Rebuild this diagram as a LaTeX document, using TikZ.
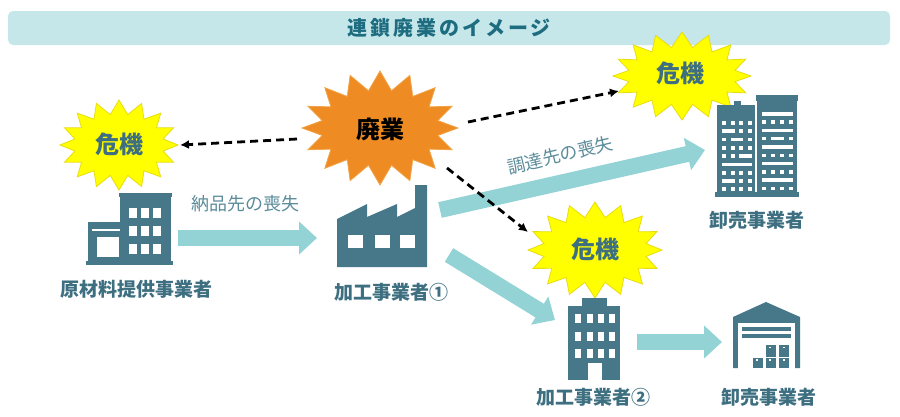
\documentclass[tikz,border=0pt]{standalone}
\usepackage{fontspec}
\setmainfont{Noto Sans CJK JP}
\usetikzlibrary{arrows.meta}
\definecolor{titlebg}{HTML}{C5E7EA}
\definecolor{titletxt}{HTML}{1E6C80}
\definecolor{iconc}{HTML}{47788A}
\definecolor{labelc}{HTML}{3D6F80}
\definecolor{lossc}{HTML}{5B8C9A}
\definecolor{fatc}{HTML}{93D3D6}
\definecolor{kikiyellow}{HTML}{FFFF00}
\definecolor{kikiline}{HTML}{E8DC10}
\definecolor{haiorange}{HTML}{EE8B22}
\definecolor{hailine}{HTML}{F2A448}
\newcommand{\kikiburst}[6]{%
	\filldraw[#6] plot[samples=33, domain=0:32, variable=\t]
		({#1+(#3-#5*mod(\t,2))*cos(11.25*\t)}, {#2+(#4-#5*mod(\t,2))*sin(11.25*\t)}) -- cycle;}

\begin{document}
\begin{tikzpicture}[x=1pt, y=-1pt,
	icon/.style={fill=iconc},
	hole/.style={fill=white},
	firm/.style={font=\bfseries\fontsize{19}{19}\selectfont, text=labelc, inner sep=0pt},
	loss/.style={font=\fontsize{18}{18}\selectfont, text=lossc, inner sep=0pt},
	burstword/.style={font=\bfseries\fontsize{24}{24}\selectfont, inner sep=0pt},
	spot/.style={inner sep=0pt, minimum size=2pt},
	fatarrow/.style={draw=fatc, line width=16pt, -{Triangle[length=18pt, width=32pt]}},
	dasharrow/.style={line width=2.8pt, dash pattern=on 8pt off 5pt, -{Latex[length=9pt, width=9pt]}}]
\useasboundingbox (0,0) rectangle (900,416);

\node (title) [fill=titlebg, rounded corners=5pt, minimum width=882pt, minimum height=34pt,
	font=\bfseries\fontsize{20}{20}\selectfont\addfontfeature{LetterSpace=15}, text=titletxt] at (449,28) {連鎖廃業のイメージ};

\kikiburst{119}{145}{59}{45}{14}{fill=kikiyellow, draw=kikiline, line width=0.8pt}
\kikiburst{380}{128}{78}{57}{19}{fill=haiorange, draw=hailine, line width=0.8pt}
\kikiburst{682}{76}{69}{44}{15}{fill=kikiyellow, draw=kikiline, line width=0.8pt}
\kikiburst{595}{250}{67}{48}{15}{fill=kikiyellow, draw=kikiline, line width=0.8pt}
\node (kk1) [burstword, text=labelc] at (119,144) {危機};
\node (hg)  [burstword] at (380,129) {廃業};
\node (kk2) [burstword, text=labelc] at (680,73) {危機};
\node (kk3) [burstword, text=labelc] at (595,249) {危機};

\node (tk)  [spot] at (130,229) {};
\node (k1)  [spot] at (382,226) {};
\node (ws1) [spot] at (757,146) {};
\node (k2)  [spot] at (594,339) {};
\node (ws2) [spot] at (766,335) {};

\fill[icon] (119,193) rectangle (172,197);
\fill[icon] (120,196) rectangle (171,262);
\fill[icon] (88,222) rectangle (121,262);
\fill[icon] (86,261) rectangle (173,265);
\fill[hole] (92,229) rectangle (120,231);
\fill[hole] (97,237) rectangle (119,257);
\foreach \x in {129,141,153}
	\foreach \y in {208,226,244}
		\fill[hole] (\x,\y) rectangle ++(8,10);

\fill[icon] (337,219) -- (367,204) -- (367,217) -- (397,204) -- (397,217) -- (415,208)
	-- (415,185) -- (427,185) -- (427,267) -- (337,267) -- cycle;
\foreach \x in {348,375,400}
	\fill[hole] (\x,235) rectangle ++(15,13);

\fill[icon] (717,105) rectangle (755,195);
\fill[icon] (734,101) rectangle (741,106);
\fill[icon] (755.5,95) rectangle (798,101);
\fill[icon] (757,100) rectangle (797,195);
\fill[icon] (715,192) rectangle (799,197);
\fill[hole] (755,102) rectangle (756.6,192);
\foreach \y in {121,146,171,187}
	\foreach \x in {722,730.5,739,747.5}
		\fill[hole] (\x,\y) rectangle ++(4,3.5);
\fill[hole] (722,129.3) rectangle ++(12.5,3.5);
\fill[hole] (739,129.3) rectangle ++(4,3.5);
\fill[hole] (747.5,129.3) rectangle ++(4,3.5);
\fill[hole] (722,137.6) rectangle ++(4,3.5);
\fill[hole] (730.5,137.6) rectangle ++(12.5,3.5);
\fill[hole] (747.5,137.6) rectangle ++(4,3.5);
\fill[hole] (722,154.3) rectangle ++(4,3.5);
\fill[hole] (730.5,154.3) rectangle ++(4,3.5);
\fill[hole] (739,154.3) rectangle ++(12.5,3.5);
\fill[hole] (722,162.6) rectangle ++(29.5,3.5);
\fill[hole] (722,179.3) rectangle ++(12.5,3.5);
\fill[hole] (739,179.3) rectangle ++(4,3.5);
\fill[hole] (747.5,179.3) rectangle ++(4,3.5);
\foreach \y in {112,128.6,145.2,161.8,178.4}
	\fill[hole] (762,\y) rectangle ++(31,3.5);
\foreach \y in {120.3,153.5,170.1,186.7}
	\foreach \x in {762,771,780,789}
		\fill[hole] (\x,\y) rectangle ++(4,3.5);
\fill[hole] (762,136.9) rectangle ++(4,3.5);
\fill[hole] (771,136.9) rectangle ++(13,3.5);
\fill[hole] (789,136.9) rectangle ++(4,3.5);

\fill[icon] (582,298) rectangle (607,307);
\fill[icon] (568,306) rectangle (620,380);
\foreach \x in {575,587,598,609}
	\foreach \y in {314,332,349}
		\fill[hole] (\x,\y) rectangle ++(6,9);
\fill[hole] (588,363) rectangle (602,381);

\fill[icon] (733,317) -- (766,302) -- (800,317) -- (800,368) -- (733,368) -- cycle;
\fill[hole] (738.3,323.3) rectangle (794.7,369);
\fill[icon] (741.7,327.3) rectangle (790.7,330.7);
\fill[icon] (741.7,334.3) rectangle (790.7,337.7);
\foreach \x in {752.7,766,779.3}
	\fill[icon] (\x,357.7) rectangle ++(10,10.3);
\foreach \x in {766,779.3}
	\fill[icon] (\x,345) rectangle ++(10,11.7);
\foreach \x in {756,769.3,782.6}
	\fill[hole] (\x,359.2) rectangle ++(2,1.5);
\foreach \x in {769.3,782.6}
	\fill[hole] (\x,346.5) rectangle ++(2,1.5);

\draw[fatarrow] ([shift={(48,9)}]tk.center) -- ([shift={(-65,12)}]k1.center);
\draw[fatarrow] ([shift={(58,-16)}]k1.center) -- ([shift={(-52,4)}]ws1.center);
\draw[fatarrow] ([shift={(67,29)}]k1.center) -- ([shift={(-39,-19)}]k2.center);
\draw[fatarrow] ([shift={(43,3)}]k2.center) -- ([shift={(-44,7)}]ws2.center);

\draw[dasharrow] ([shift={(-83,10)}]hg.center) -- ([shift={(61,1)}]kk1.center);
\draw[dasharrow] ([shift={(88,-7)}]hg.center) -- ([shift={(-61,18)}]kk2.center);
\draw[dasharrow] ([shift={(67,39)}]hg.center) -- ([shift={(-67,-17)}]kk3.center);

\node (nohin) [loss] at (245,204) {納品先の喪失};
\node (chotatsu) [loss, rotate=13.5] at (560,155) {調達先の喪失};
\node (tkl)  [firm] at (136,289) {原材料提供事業者};
\node (k1l)  [firm] at (391,292) {加工事業者①};
\node (ws1l) [firm] at (757,220) {卸売事業者};
\node (k2l)  [firm] at (593,397) {加工事業者②};
\node (ws2l) [firm] at (769,397) {卸売事業者};
\end{tikzpicture}
\end{document}
